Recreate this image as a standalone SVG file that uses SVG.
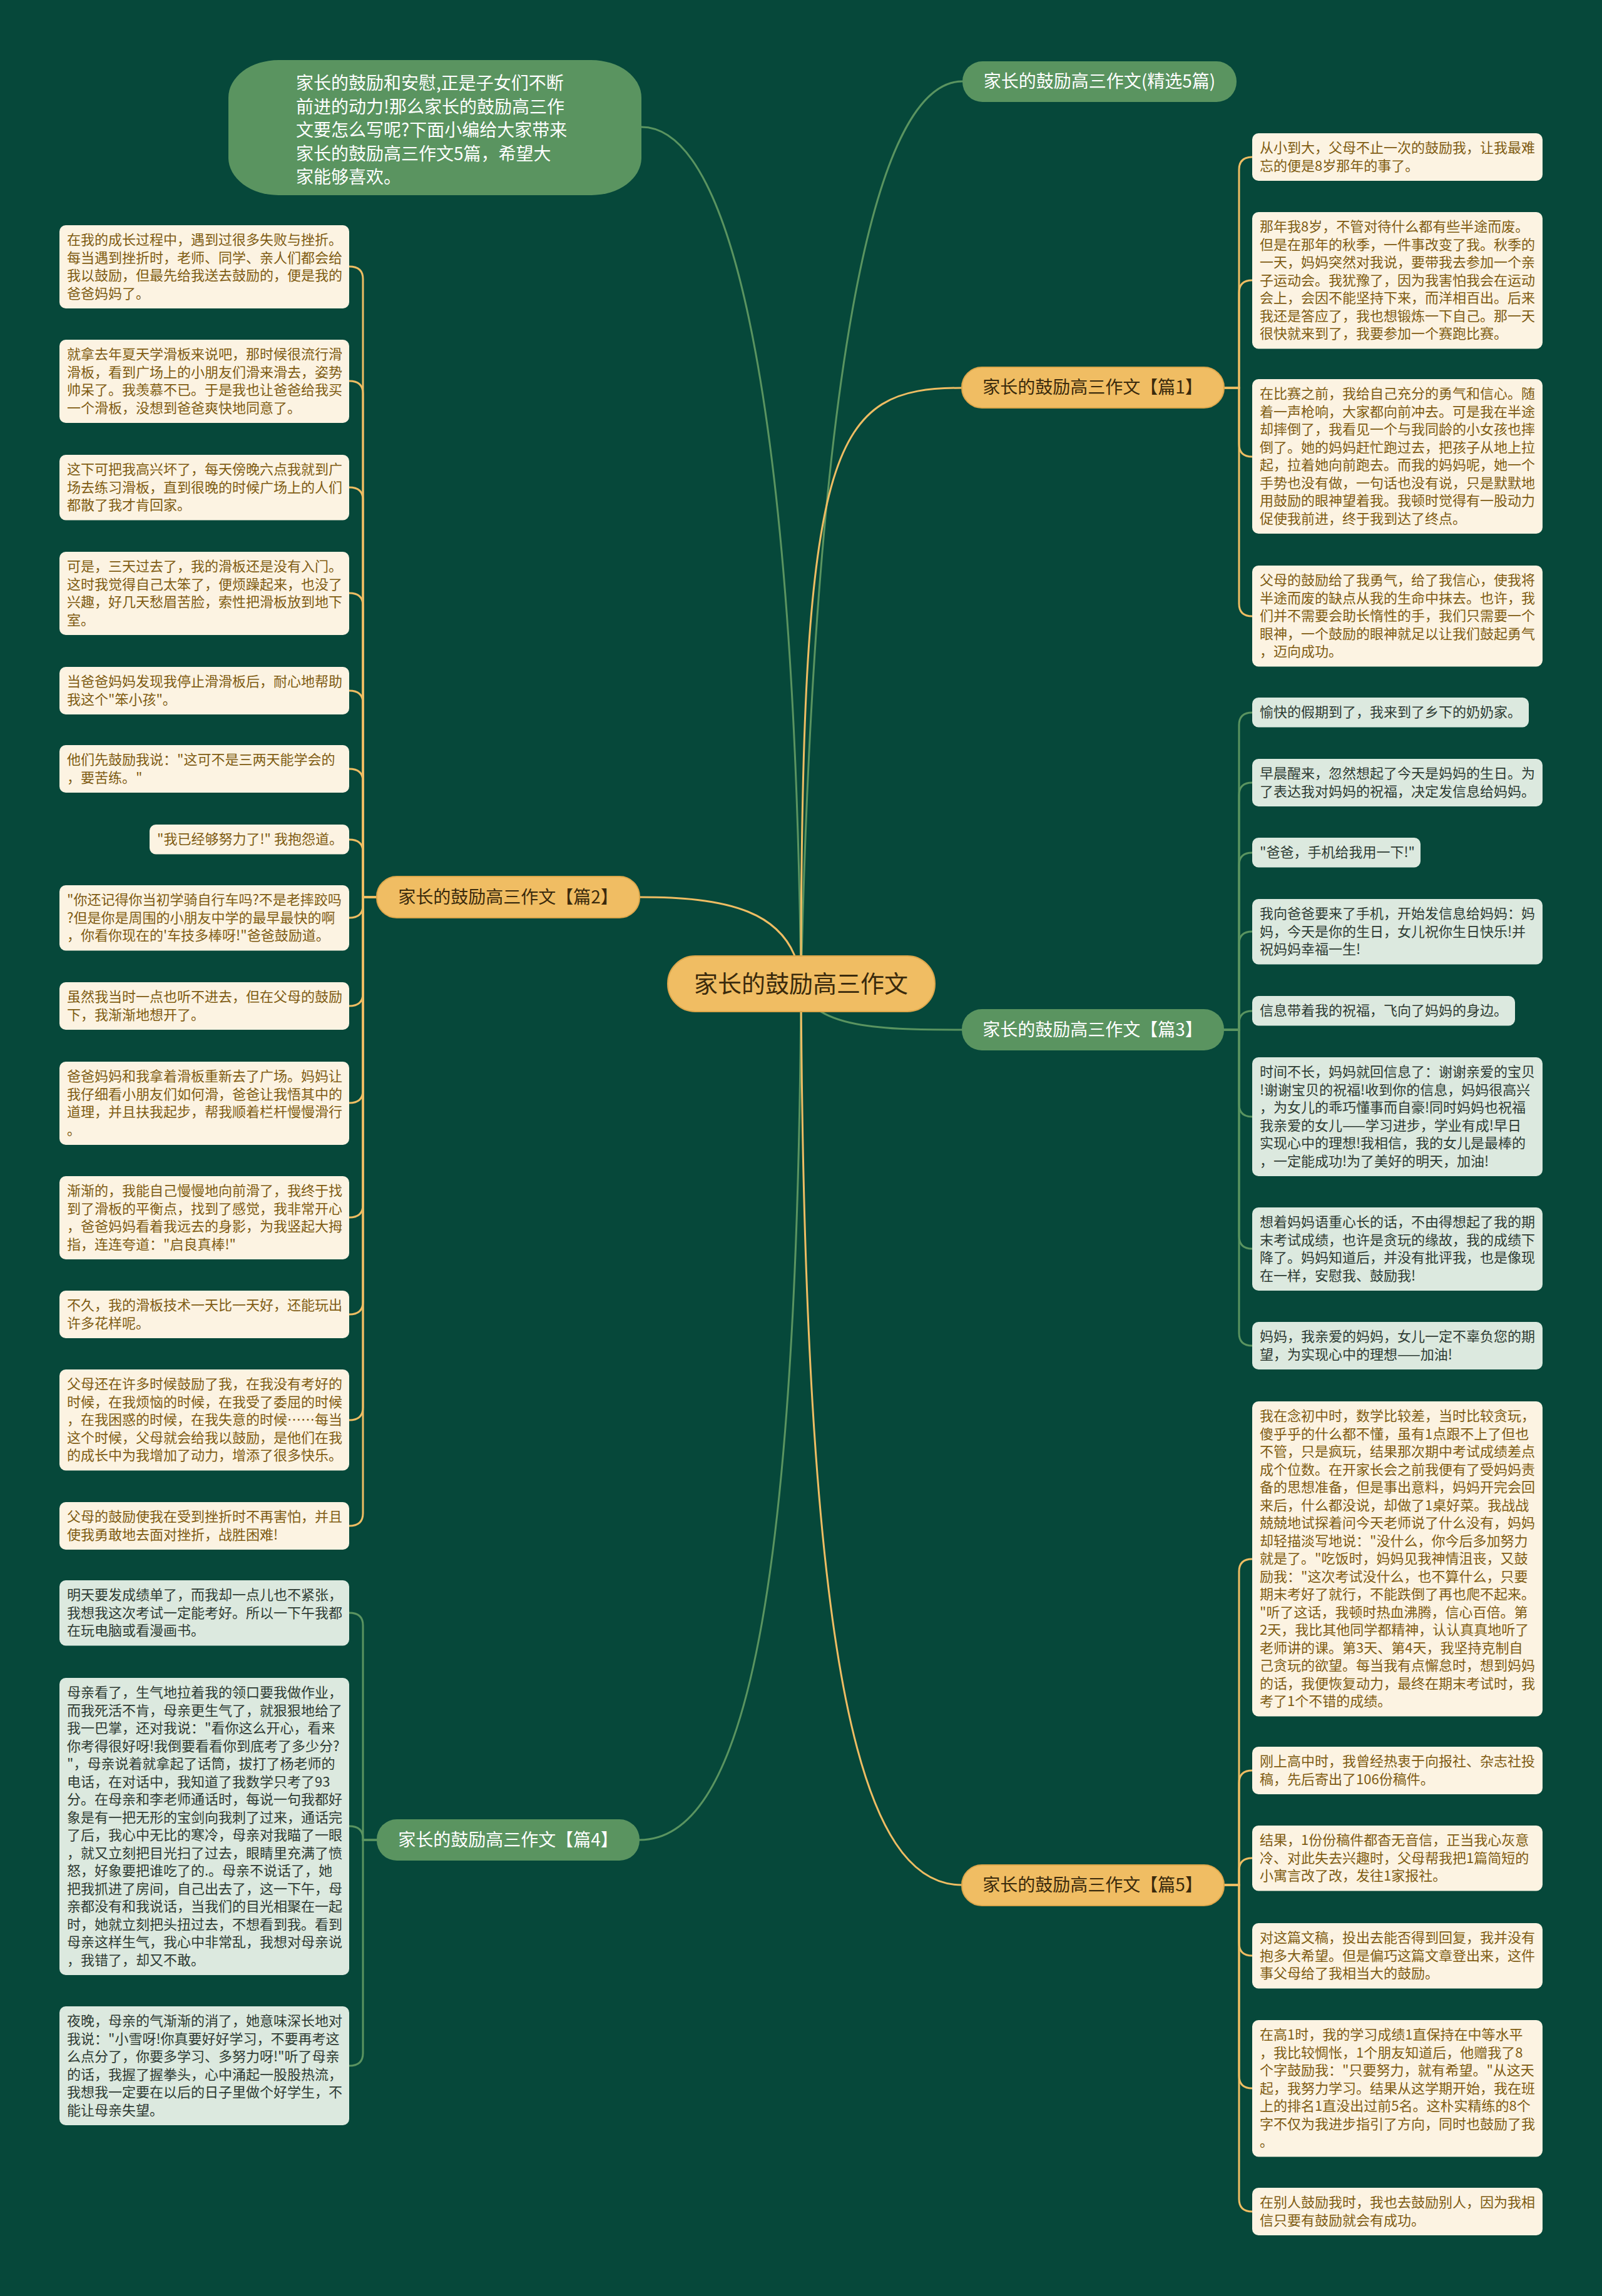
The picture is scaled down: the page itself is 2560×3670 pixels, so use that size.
<svg xmlns="http://www.w3.org/2000/svg" width="2560" height="3670" viewBox="0 0 2560 3670">
<style>
text{font-family:"Noto Sans CJK SC","Noto Sans",sans-serif}
.o{fill:#f0bd63;stroke:#dca64a;stroke-width:2}
.g{fill:#5a9460}
.lc{fill:#fcf3e2}
.lm{fill:#dce9df}
.tc{fill:#7f5c12;font-size:22px}
.tm{fill:#2e3b33;font-size:22px}
.to{fill:#3a2a0c;font-size:28px}
.tg{fill:#ffffff;font-size:28px}
.co{stroke:#eebd63;fill:none;stroke-width:3}
.cg{stroke:#5a9460;fill:none;stroke-width:3}
</style>
<rect x="0" y="0" width="2560" height="3670" fill="#06483a"/>
<g id="connectors">
<path class="cg" d="M1280,1572 C1300,700 1380,130 1538,130"/>
<path class="cg" d="M1280,1572 C1270,700 1180,203 1025,203"/>
<path class="co" d="M1280,1572 C1280,700 1330,620 1537,620"/>
<path class="co" d="M1280,1572 C1270,1450 1150,1434 1022,1434"/>
<path class="cg" d="M1280,1572 C1290,1646 1420,1646 1537,1646"/>
<path class="cg" d="M1280,1572 C1275,2600 1180,2941 1022,2941"/>
<path class="co" d="M1280,1572 C1285,2700 1380,3013 1537,3013"/>
<path class="co" d="M1956,620 H1980 V271 Q1980,251 2001,251"/>
<path class="co" d="M1956,620 H1980 V468 Q1980,448 2001,448"/>
<path class="co" d="M1956,620 H1980 V710 Q1980,730 2001,730"/>
<path class="co" d="M1956,620 H1980 V965 Q1980,985 2001,985"/>
<path class="cg" d="M1956,1646 H1980 V1159 Q1980,1139 2001,1139"/>
<path class="cg" d="M1956,1646 H1980 V1271 Q1980,1251 2001,1251"/>
<path class="cg" d="M1956,1646 H1980 V1383 Q1980,1363 2001,1363"/>
<path class="cg" d="M1956,1646 H1980 V1509 Q1980,1489 2001,1489"/>
<path class="cg" d="M1956,1646 H1980 V1636 Q1980,1616 2001,1616"/>
<path class="cg" d="M1956,1646 H1980 V1765 Q1980,1785 2001,1785"/>
<path class="cg" d="M1956,1646 H1980 V1976 Q1980,1996 2001,1996"/>
<path class="cg" d="M1956,1646 H1980 V2131 Q1980,2151 2001,2151"/>
<path class="co" d="M1956,3013 H1980 V2512 Q1980,2492 2001,2492"/>
<path class="co" d="M1956,3013 H1980 V2850 Q1980,2830 2001,2830"/>
<path class="co" d="M1956,3013 H1980 V2990 Q1980,2970 2001,2970"/>
<path class="co" d="M1956,3013 H1980 V3106 Q1980,3126 2001,3126"/>
<path class="co" d="M1956,3013 H1980 V3318 Q1980,3338 2001,3338"/>
<path class="co" d="M1956,3013 H1980 V3515 Q1980,3535 2001,3535"/>
<path class="co" d="M602,1434 H580 V446 Q580,426 558,426"/>
<path class="co" d="M602,1434 H580 V629 Q580,609 558,609"/>
<path class="co" d="M602,1434 H580 V799 Q580,779 558,779"/>
<path class="co" d="M602,1434 H580 V968 Q580,948 558,948"/>
<path class="co" d="M602,1434 H580 V1124 Q580,1104 558,1104"/>
<path class="co" d="M602,1434 H580 V1249 Q580,1229 558,1229"/>
<path class="co" d="M602,1434 H580 V1362 Q580,1342 558,1342"/>
<path class="co" d="M602,1434 H580 V1447 Q580,1467 558,1467"/>
<path class="co" d="M602,1434 H580 V1588 Q580,1608 558,1608"/>
<path class="co" d="M602,1434 H580 V1743 Q580,1763 558,1763"/>
<path class="co" d="M602,1434 H580 V1926 Q580,1946 558,1946"/>
<path class="co" d="M602,1434 H580 V2081 Q580,2101 558,2101"/>
<path class="co" d="M602,1434 H580 V2250 Q580,2270 558,2270"/>
<path class="co" d="M602,1434 H580 V2419 Q580,2439 558,2439"/>
<path class="cg" d="M602,2941 H580 V2598 Q580,2578 558,2578"/>
<path class="cg" d="M602,2941 H580 V2939 Q580,2919 558,2919"/>
<path class="cg" d="M602,2941 H580 V3282 Q580,3302 558,3302"/>
</g>
<g id="center"><rect class="o" x="1067" y="1528" width="427" height="89" rx="44"/><text x="1280" y="1586" text-anchor="middle" style="font-size:38px;fill:#3a2a0c">家长的鼓励高三作文</text></g>
<g id="intro"><rect class="g" x="365" y="96" width="660" height="216" rx="80" ry="60"/><text class="tg" x="473" y="143"><tspan x="473" y="143">家长的鼓励和安慰,正是子女们不断</tspan><tspan x="473" y="180.5">前进的动力!那么家长的鼓励高三作</tspan><tspan x="473" y="218">文要怎么写呢?下面小编给大家带来</tspan><tspan x="473" y="255.5">家长的鼓励高三作文5篇，希望大</tspan><tspan x="473" y="293">家能够喜欢。</tspan></text></g>
<g id="b0"><rect class="g" x="1538" y="98" width="438" height="65" rx="32"/><text class="tg" x="1757" y="140" text-anchor="middle">家长的鼓励高三作文(精选5篇)</text></g>
<g id="b1"><rect class="o" x="1537" y="587" width="419" height="65" rx="32"/><text class="to" x="1746" y="629" text-anchor="middle">家长的鼓励高三作文【篇1】</text></g>
<g id="b2"><rect class="o" x="602" y="1401" width="420" height="66" rx="32"/><text class="to" x="812" y="1444" text-anchor="middle">家长的鼓励高三作文【篇2】</text></g>
<g id="b3"><rect class="g" x="1537" y="1613" width="419" height="66" rx="32"/><text class="tg" x="1746" y="1656" text-anchor="middle">家长的鼓励高三作文【篇3】</text></g>
<g id="b4"><rect class="g" x="602" y="2908" width="420" height="66" rx="32"/><text class="tg" x="812" y="2951" text-anchor="middle">家长的鼓励高三作文【篇4】</text></g>
<g id="b5"><rect class="o" x="1537" y="2981" width="419" height="65" rx="32"/><text class="to" x="1746" y="3023" text-anchor="middle">家长的鼓励高三作文【篇5】</text></g>

<g id="r1-1"><rect class="lc" x="2001" y="213" width="464" height="76" rx="10"/><text class="tc" x="2013" y="244"><tspan x="2013" dy="0">从小到大，父母不止一次的鼓励我，让我最难</tspan><tspan x="2013" dy="28.5">忘的便是8岁那年的事了。</tspan></text></g>
<g id="r1-2"><rect class="lc" x="2001" y="339" width="464" height="218.5" rx="10"/><text class="tc" x="2013" y="370"><tspan x="2013" dy="0">那年我8岁，不管对待什么都有些半途而废。</tspan><tspan x="2013" dy="28.5">但是在那年的秋季，一件事改变了我。秋季的</tspan><tspan x="2013" dy="28.5">一天，妈妈突然对我说，要带我去参加一个亲</tspan><tspan x="2013" dy="28.5">子运动会。我犹豫了，因为我害怕我会在运动</tspan><tspan x="2013" dy="28.5">会上，会因不能坚持下来，而洋相百出。后来</tspan><tspan x="2013" dy="28.5">我还是答应了，我也想锻炼一下自己。那一天</tspan><tspan x="2013" dy="28.5">很快就来到了，我要参加一个赛跑比赛。</tspan></text></g>
<g id="r1-3"><rect class="lc" x="2001" y="606" width="464" height="247" rx="10"/><text class="tc" x="2013" y="637"><tspan x="2013" dy="0">在比赛之前，我给自己充分的勇气和信心。随</tspan><tspan x="2013" dy="28.5">着一声枪响，大家都向前冲去。可是我在半途</tspan><tspan x="2013" dy="28.5">却摔倒了，我看见一个与我同龄的小女孩也摔</tspan><tspan x="2013" dy="28.5">倒了。她的妈妈赶忙跑过去，把孩子从地上拉</tspan><tspan x="2013" dy="28.5">起，拉着她向前跑去。而我的妈妈呢，她一个</tspan><tspan x="2013" dy="28.5">手势也没有做，一句话也没有说，只是默默地</tspan><tspan x="2013" dy="28.5">用鼓励的眼神望着我。我顿时觉得有一股动力</tspan><tspan x="2013" dy="28.5">促使我前进，终于我到达了终点。</tspan></text></g>
<g id="r1-4"><rect class="lc" x="2001" y="904" width="464" height="161.5" rx="10"/><text class="tc" x="2013" y="935"><tspan x="2013" dy="0">父母的鼓励给了我勇气，给了我信心，使我将</tspan><tspan x="2013" dy="28.5">半途而废的缺点从我的生命中抹去。也许，我</tspan><tspan x="2013" dy="28.5">们并不需要会助长惰性的手，我们只需要一个</tspan><tspan x="2013" dy="28.5">眼神，一个鼓励的眼神就足以让我们鼓起勇气</tspan><tspan x="2013" dy="28.5">，迈向成功。</tspan></text></g>

<g id="r3-1"><rect class="lm" x="2001" y="1115" width="442" height="47.5" rx="10"/><text class="tm" x="2013" y="1146">愉快的假期到了，我来到了乡下的奶奶家。</text></g>
<g id="r3-2"><rect class="lm" x="2001" y="1213" width="464" height="76" rx="10"/><text class="tm" x="2013" y="1244"><tspan x="2013" dy="0">早晨醒来，忽然想起了今天是妈妈的生日。为</tspan><tspan x="2013" dy="28.5">了表达我对妈妈的祝福，决定发信息给妈妈。</tspan></text></g>
<g id="r3-3"><rect class="lm" x="2001" y="1339" width="269" height="47.5" rx="10"/><text class="tm" x="2013" y="1370">"爸爸，手机给我用一下!"</text></g>
<g id="r3-4"><rect class="lm" x="2001" y="1437" width="464" height="104.5" rx="10"/><text class="tm" x="2013" y="1468"><tspan x="2013" dy="0">我向爸爸要来了手机，开始发信息给妈妈：妈</tspan><tspan x="2013" dy="28.5">妈，今天是你的生日，女儿祝你生日快乐!并</tspan><tspan x="2013" dy="28.5">祝妈妈幸福一生!</tspan></text></g>
<g id="r3-5"><rect class="lm" x="2001" y="1592" width="420" height="47.5" rx="10"/><text class="tm" x="2013" y="1623">信息带着我的祝福，飞向了妈妈的身边。</text></g>
<g id="r3-6"><rect class="lm" x="2001" y="1690" width="464" height="190" rx="10"/><text class="tm" x="2013" y="1721"><tspan x="2013" dy="0">时间不长，妈妈就回信息了：谢谢亲爱的宝贝</tspan><tspan x="2013" dy="28.5">!谢谢宝贝的祝福!收到你的信息，妈妈很高兴</tspan><tspan x="2013" dy="28.5">，为女儿的乖巧懂事而自豪!同时妈妈也祝福</tspan><tspan x="2013" dy="28.5">我亲爱的女儿——学习进步，学业有成!早日</tspan><tspan x="2013" dy="28.5">实现心中的理想!我相信，我的女儿是最棒的</tspan><tspan x="2013" dy="28.5">，一定能成功!为了美好的明天，加油!</tspan></text></g>
<g id="r3-7"><rect class="lm" x="2001" y="1930" width="464" height="133" rx="10"/><text class="tm" x="2013" y="1961"><tspan x="2013" dy="0">想着妈妈语重心长的话，不由得想起了我的期</tspan><tspan x="2013" dy="28.5">末考试成绩，也许是贪玩的缘故，我的成绩下</tspan><tspan x="2013" dy="28.5">降了。妈妈知道后，并没有批评我，也是像现</tspan><tspan x="2013" dy="28.5">在一样，安慰我、鼓励我!</tspan></text></g>
<g id="r3-8"><rect class="lm" x="2001" y="2113" width="464" height="76" rx="10"/><text class="tm" x="2013" y="2144"><tspan x="2013" dy="0">妈妈，我亲爱的妈妈，女儿一定不辜负您的期</tspan><tspan x="2013" dy="28.5">望，为实现心中的理想——加油!</tspan></text></g>

<g id="r5-1"><rect class="lc" x="2001" y="2240" width="464" height="503.5" rx="10"/><text class="tc" x="2013" y="2271"><tspan x="2013" dy="0">我在念初中时，数学比较差，当时比较贪玩，</tspan><tspan x="2013" dy="28.5">傻乎乎的什么都不懂，虽有1点跟不上了但也</tspan><tspan x="2013" dy="28.5">不管，只是疯玩，结果那次期中考试成绩差点</tspan><tspan x="2013" dy="28.5">成个位数。在开家长会之前我便有了受妈妈责</tspan><tspan x="2013" dy="28.5">备的思想准备，但是事出意料，妈妈开完会回</tspan><tspan x="2013" dy="28.5">来后，什么都没说，却做了1桌好菜。我战战</tspan><tspan x="2013" dy="28.5">兢兢地试探着问今天老师说了什么没有，妈妈</tspan><tspan x="2013" dy="28.5">却轻描淡写地说："没什么，你今后多加努力</tspan><tspan x="2013" dy="28.5">就是了。"吃饭时，妈妈见我神情沮丧，又鼓</tspan><tspan x="2013" dy="28.5">励我："这次考试没什么，也不算什么，只要</tspan><tspan x="2013" dy="28.5">期末考好了就行，不能跌倒了再也爬不起来。</tspan><tspan x="2013" dy="28.5">"听了这话，我顿时热血沸腾，信心百倍。第</tspan><tspan x="2013" dy="28.5">2天，我比其他同学都精神，认认真真地听了</tspan><tspan x="2013" dy="28.5">老师讲的课。第3天、第4天，我坚持克制自</tspan><tspan x="2013" dy="28.5">己贪玩的欲望。每当我有点懈怠时，想到妈妈</tspan><tspan x="2013" dy="28.5">的话，我便恢复动力，最终在期末考试时，我</tspan><tspan x="2013" dy="28.5">考了1个不错的成绩。</tspan></text></g>
<g id="r5-2"><rect class="lc" x="2001" y="2792" width="464" height="76" rx="10"/><text class="tc" x="2013" y="2823"><tspan x="2013" dy="0">刚上高中时，我曾经热衷于向报社、杂志社投</tspan><tspan x="2013" dy="28.5">稿，先后寄出了106份稿件。</tspan></text></g>
<g id="r5-3"><rect class="lc" x="2001" y="2918" width="464" height="104.5" rx="10"/><text class="tc" x="2013" y="2949"><tspan x="2013" dy="0">结果，1份份稿件都杳无音信，正当我心灰意</tspan><tspan x="2013" dy="28.5">冷、对此失去兴趣时，父母帮我把1篇简短的</tspan><tspan x="2013" dy="28.5">小寓言改了改，发往1家报社。</tspan></text></g>
<g id="r5-4"><rect class="lc" x="2001" y="3074" width="464" height="104.5" rx="10"/><text class="tc" x="2013" y="3105"><tspan x="2013" dy="0">对这篇文稿，投出去能否得到回复，我并没有</tspan><tspan x="2013" dy="28.5">抱多大希望。但是偏巧这篇文章登出来，这件</tspan><tspan x="2013" dy="28.5">事父母给了我相当大的鼓励。</tspan></text></g>
<g id="r5-5"><rect class="lc" x="2001" y="3229" width="464" height="218.5" rx="10"/><text class="tc" x="2013" y="3260"><tspan x="2013" dy="0">在高1时，我的学习成绩1直保持在中等水平</tspan><tspan x="2013" dy="28.5">，我比较惆怅，1个朋友知道后，他赠我了8</tspan><tspan x="2013" dy="28.5">个字鼓励我："只要努力，就有希望。"从这天</tspan><tspan x="2013" dy="28.5">起，我努力学习。结果从这学期开始，我在班</tspan><tspan x="2013" dy="28.5">上的排名1直没出过前5名。这朴实精练的8个</tspan><tspan x="2013" dy="28.5">字不仅为我进步指引了方向，同时也鼓励了我</tspan><tspan x="2013" dy="28.5">。</tspan></text></g>
<g id="r5-6"><rect class="lc" x="2001" y="3497" width="464" height="76" rx="10"/><text class="tc" x="2013" y="3528"><tspan x="2013" dy="0">在别人鼓励我时，我也去鼓励别人，因为我相</tspan><tspan x="2013" dy="28.5">信只要有鼓励就会有成功。</tspan></text></g>

<g id="l2-1"><rect class="lc" x="95" y="360" width="463" height="133" rx="10"/><text class="tc" x="107" y="391"><tspan x="107" dy="0">在我的成长过程中，遇到过很多失败与挫折。</tspan><tspan x="107" dy="28.5">每当遇到挫折时，老师、同学、亲人们都会给</tspan><tspan x="107" dy="28.5">我以鼓励，但最先给我送去鼓励的，便是我的</tspan><tspan x="107" dy="28.5">爸爸妈妈了。</tspan></text></g>
<g id="l2-2"><rect class="lc" x="95" y="543" width="463" height="133" rx="10"/><text class="tc" x="107" y="574"><tspan x="107" dy="0">就拿去年夏天学滑板来说吧，那时候很流行滑</tspan><tspan x="107" dy="28.5">滑板，看到广场上的小朋友们滑来滑去，姿势</tspan><tspan x="107" dy="28.5">帅呆了。我羡慕不已。于是我也让爸爸给我买</tspan><tspan x="107" dy="28.5">一个滑板，没想到爸爸爽快地同意了。</tspan></text></g>
<g id="l2-3"><rect class="lc" x="95" y="727" width="463" height="104.5" rx="10"/><text class="tc" x="107" y="758"><tspan x="107" dy="0">这下可把我高兴坏了，每天傍晚六点我就到广</tspan><tspan x="107" dy="28.5">场去练习滑板，直到很晚的时候广场上的人们</tspan><tspan x="107" dy="28.5">都散了我才肯回家。</tspan></text></g>
<g id="l2-4"><rect class="lc" x="95" y="882" width="463" height="133" rx="10"/><text class="tc" x="107" y="913"><tspan x="107" dy="0">可是，三天过去了，我的滑板还是没有入门。</tspan><tspan x="107" dy="28.5">这时我觉得自己太笨了，便烦躁起来，也没了</tspan><tspan x="107" dy="28.5">兴趣，好几天愁眉苦脸，索性把滑板放到地下</tspan><tspan x="107" dy="28.5">室。</tspan></text></g>
<g id="l2-5"><rect class="lc" x="95" y="1066" width="463" height="76" rx="10"/><text class="tc" x="107" y="1097"><tspan x="107" dy="0">当爸爸妈妈发现我停止滑滑板后，耐心地帮助</tspan><tspan x="107" dy="28.5">我这个"笨小孩"。</tspan></text></g>
<g id="l2-6"><rect class="lc" x="95" y="1191" width="463" height="76" rx="10"/><text class="tc" x="107" y="1222"><tspan x="107" dy="0">他们先鼓励我说："这可不是三两天能学会的</tspan><tspan x="107" dy="28.5">，要苦练。"</tspan></text></g>
<g id="l2-7"><rect class="lc" x="239" y="1318" width="319" height="47.5" rx="10"/><text class="tc" x="251" y="1349">"我已经够努力了!" 我抱怨道。</text></g>
<g id="l2-8"><rect class="lc" x="95" y="1415" width="463" height="104.5" rx="10"/><text class="tc" x="107" y="1446"><tspan x="107" dy="0">"你还记得你当初学骑自行车吗?不是老摔跤吗</tspan><tspan x="107" dy="28.5">?但是你是周围的小朋友中学的最早最快的啊</tspan><tspan x="107" dy="28.5">，你看你现在的'车技多棒呀!"爸爸鼓励道。</tspan></text></g>
<g id="l2-9"><rect class="lc" x="95" y="1570" width="463" height="76" rx="10"/><text class="tc" x="107" y="1601"><tspan x="107" dy="0">虽然我当时一点也听不进去，但在父母的鼓励</tspan><tspan x="107" dy="28.5">下，我渐渐地想开了。</tspan></text></g>
<g id="l2-10"><rect class="lc" x="95" y="1697" width="463" height="133" rx="10"/><text class="tc" x="107" y="1728"><tspan x="107" dy="0">爸爸妈妈和我拿着滑板重新去了广场。妈妈让</tspan><tspan x="107" dy="28.5">我仔细看小朋友们如何滑，爸爸让我悟其中的</tspan><tspan x="107" dy="28.5">道理，并且扶我起步，帮我顺着栏杆慢慢滑行</tspan><tspan x="107" dy="28.5">。</tspan></text></g>
<g id="l2-11"><rect class="lc" x="95" y="1880" width="463" height="133" rx="10"/><text class="tc" x="107" y="1911"><tspan x="107" dy="0">渐渐的，我能自己慢慢地向前滑了，我终于找</tspan><tspan x="107" dy="28.5">到了滑板的平衡点，找到了感觉，我非常开心</tspan><tspan x="107" dy="28.5">，爸爸妈妈看着我远去的身影，为我竖起大拇</tspan><tspan x="107" dy="28.5">指，连连夸道："启良真棒!"</tspan></text></g>
<g id="l2-12"><rect class="lc" x="95" y="2063" width="463" height="76" rx="10"/><text class="tc" x="107" y="2094"><tspan x="107" dy="0">不久，我的滑板技术一天比一天好，还能玩出</tspan><tspan x="107" dy="28.5">许多花样呢。</tspan></text></g>
<g id="l2-13"><rect class="lc" x="95" y="2189" width="463" height="161.5" rx="10"/><text class="tc" x="107" y="2220"><tspan x="107" dy="0">父母还在许多时候鼓励了我，在我没有考好的</tspan><tspan x="107" dy="28.5">时候，在我烦恼的时候，在我受了委屈的时候</tspan><tspan x="107" dy="28.5">，在我困惑的时候，在我失意的时候……每当</tspan><tspan x="107" dy="28.5">这个时候，父母就会给我以鼓励，是他们在我</tspan><tspan x="107" dy="28.5">的成长中为我增加了动力，增添了很多快乐。</tspan></text></g>
<g id="l2-14"><rect class="lc" x="95" y="2401" width="463" height="76" rx="10"/><text class="tc" x="107" y="2432"><tspan x="107" dy="0">父母的鼓励使我在受到挫折时不再害怕，并且</tspan><tspan x="107" dy="28.5">使我勇敢地去面对挫折，战胜困难!</tspan></text></g>

<g id="l4-1"><rect class="lm" x="95" y="2526" width="463" height="104.5" rx="10"/><text class="tm" x="107" y="2557"><tspan x="107" dy="0">明天要发成绩单了，而我却一点儿也不紧张，</tspan><tspan x="107" dy="28.5">我想我这次考试一定能考好。所以一下午我都</tspan><tspan x="107" dy="28.5">在玩电脑或看漫画书。</tspan></text></g>
<g id="l4-2"><rect class="lm" x="95" y="2682" width="463" height="475" rx="10"/><text class="tm" x="107" y="2713"><tspan x="107" dy="0">母亲看了，生气地拉着我的领口要我做作业，</tspan><tspan x="107" dy="28.5">而我死活不肯，母亲更生气了，就狠狠地给了</tspan><tspan x="107" dy="28.5">我一巴掌，还对我说："看你这么开心，看来</tspan><tspan x="107" dy="28.5">你考得很好呀!我倒要看看你到底考了多少分?</tspan><tspan x="107" dy="28.5">"，母亲说着就拿起了话筒，拔打了杨老师的</tspan><tspan x="107" dy="28.5">电话，在对话中，我知道了我数学只考了93</tspan><tspan x="107" dy="28.5">分。在母亲和李老师通话时，每说一句我都好</tspan><tspan x="107" dy="28.5">象是有一把无形的宝剑向我刺了过来，通话完</tspan><tspan x="107" dy="28.5">了后，我心中无比的寒冷，母亲对我瞄了一眼</tspan><tspan x="107" dy="28.5">，就又立刻把目光扫了过去，眼睛里充满了愤</tspan><tspan x="107" dy="28.5">怒，好象要把谁吃了的.。母亲不说话了，她</tspan><tspan x="107" dy="28.5">把我抓进了房间，自己出去了，这一下午，母</tspan><tspan x="107" dy="28.5">亲都没有和我说话，当我们的目光相聚在一起</tspan><tspan x="107" dy="28.5">时，她就立刻把头扭过去，不想看到我。看到</tspan><tspan x="107" dy="28.5">母亲这样生气，我心中非常乱，我想对母亲说</tspan><tspan x="107" dy="28.5">，我错了，却又不敢。</tspan></text></g>
<g id="l4-3"><rect class="lm" x="95" y="3207" width="463" height="190" rx="10"/><text class="tm" x="107" y="3238"><tspan x="107" dy="0">夜晚，母亲的气渐渐的消了，她意味深长地对</tspan><tspan x="107" dy="28.5">我说："小雪呀!你真要好好学习，不要再考这</tspan><tspan x="107" dy="28.5">么点分了，你要多学习、多努力呀!"听了母亲</tspan><tspan x="107" dy="28.5">的话，我握了握拳头，心中涌起一股股热流，</tspan><tspan x="107" dy="28.5">我想我一定要在以后的日子里做个好学生，不</tspan><tspan x="107" dy="28.5">能让母亲失望。</tspan></text></g>
</svg>
